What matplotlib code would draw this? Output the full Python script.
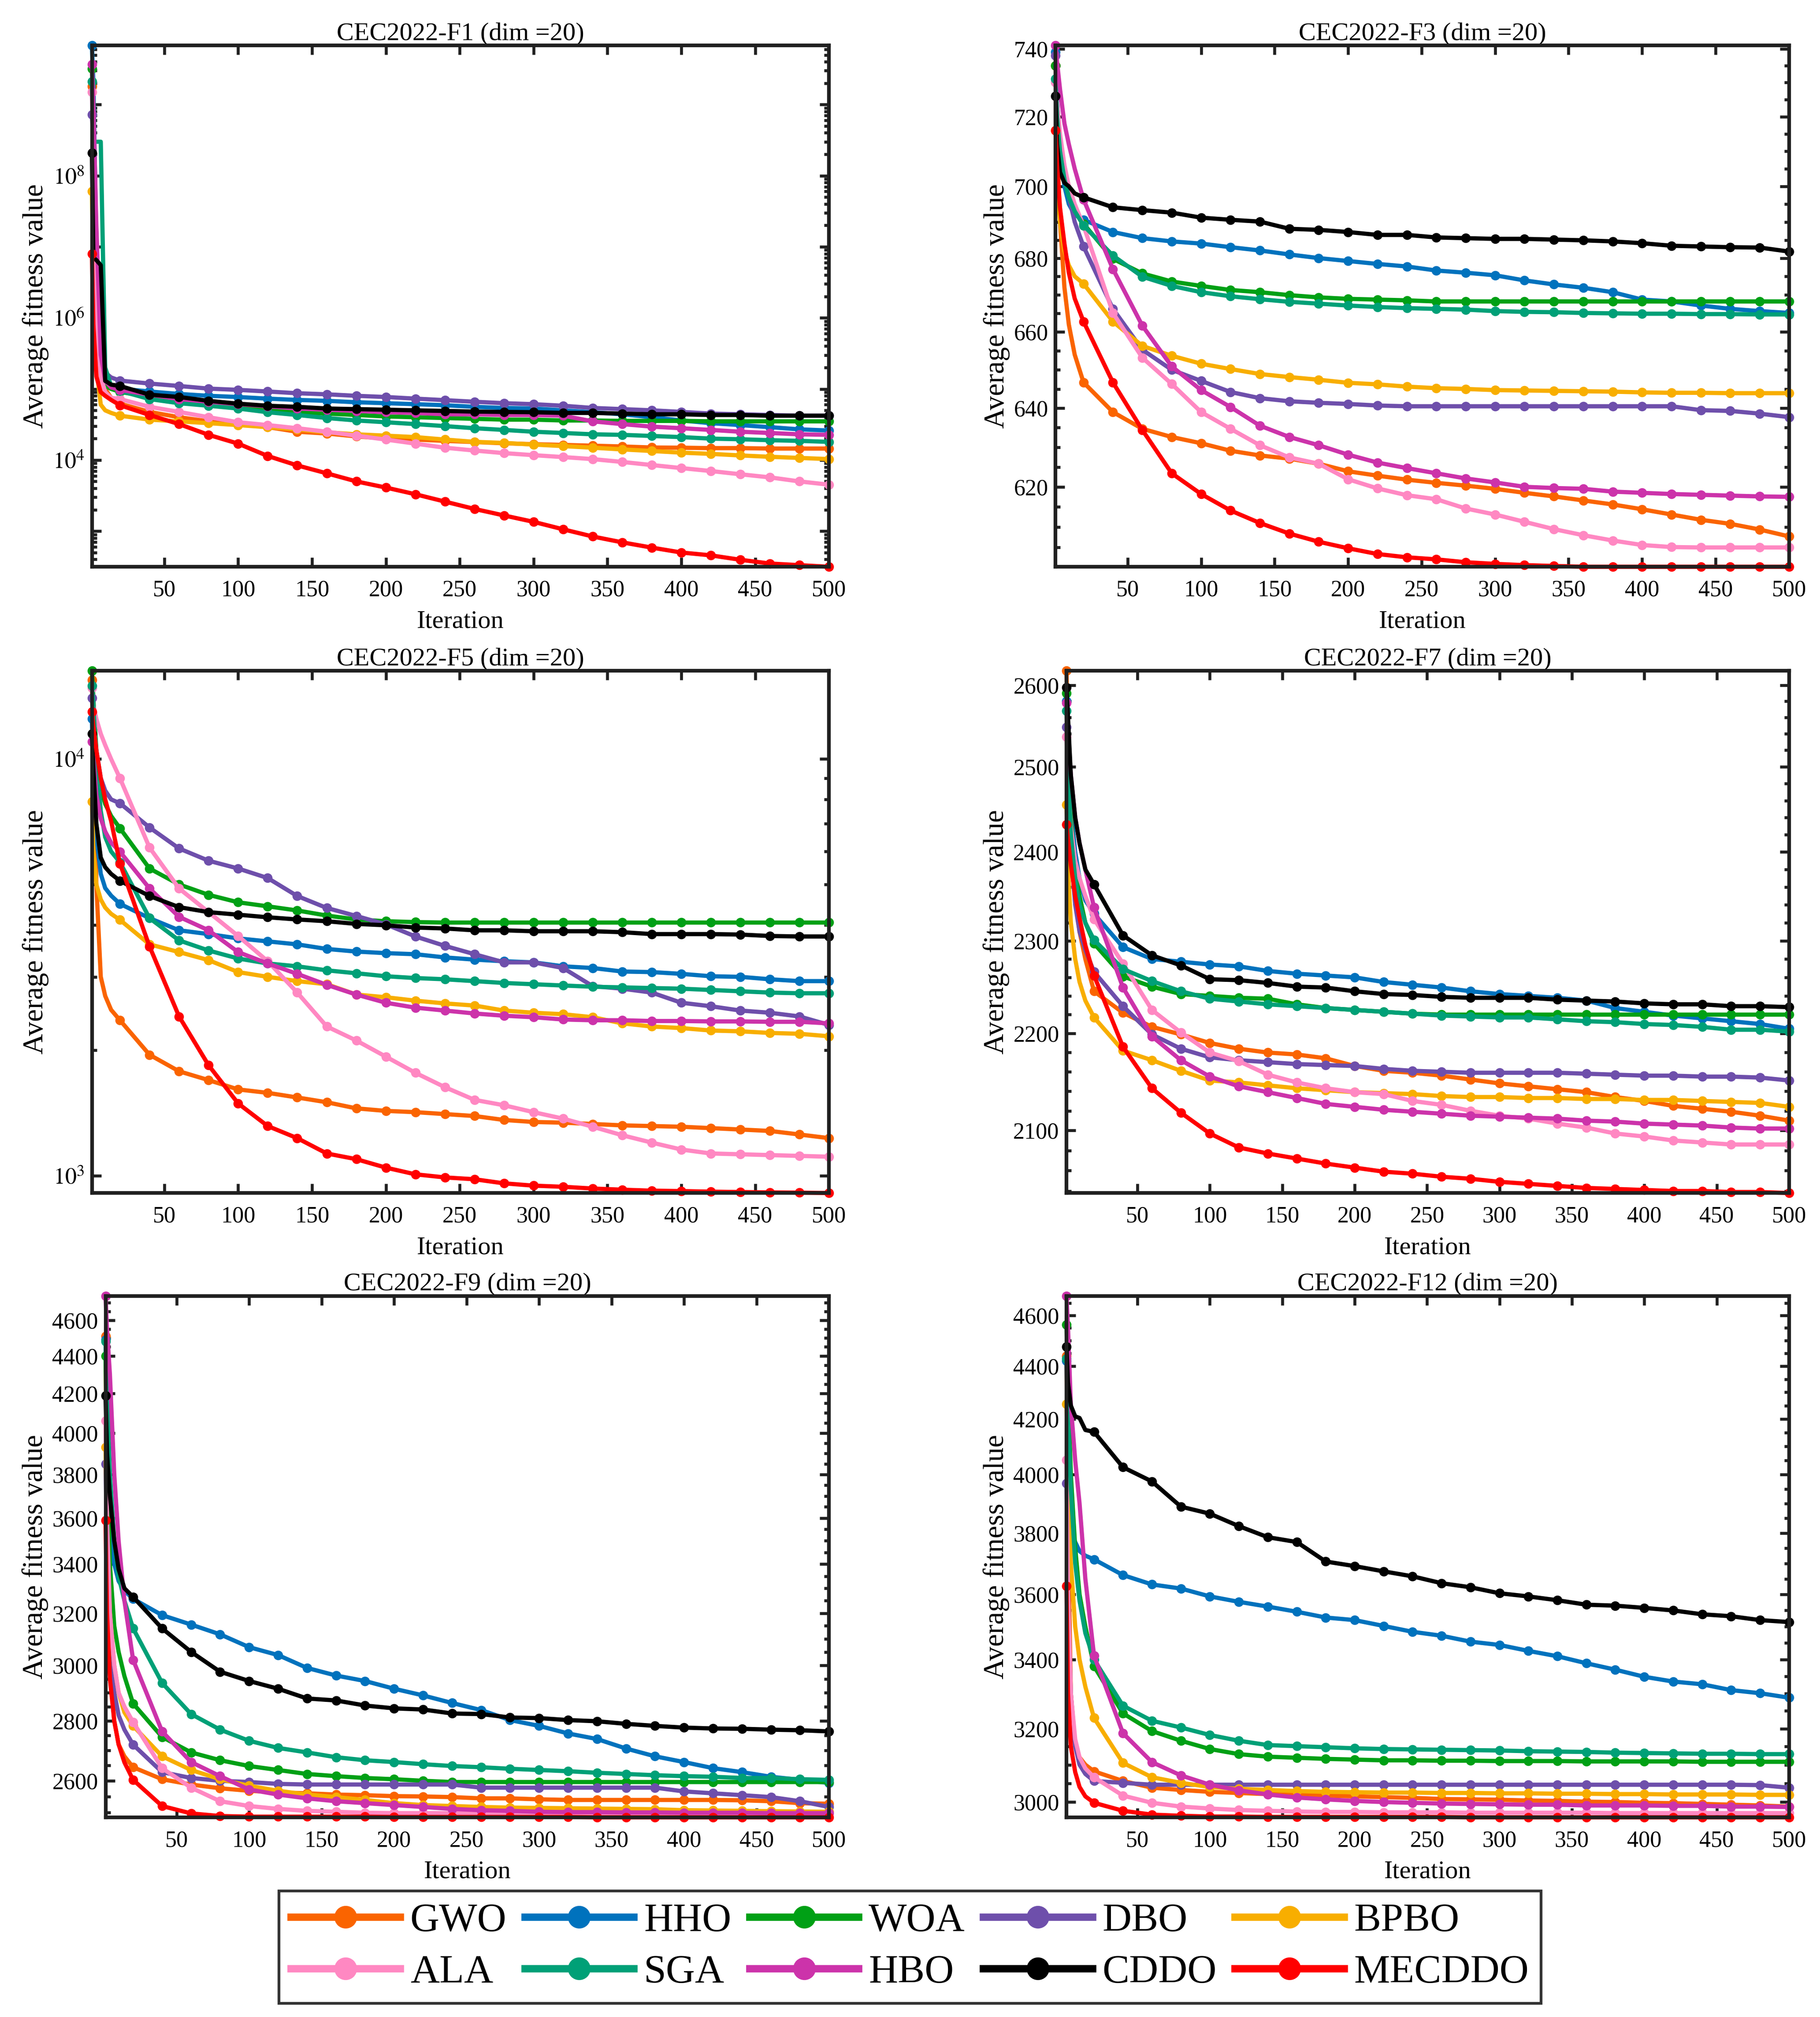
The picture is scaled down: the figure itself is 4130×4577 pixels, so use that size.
import math
import matplotlib
matplotlib.use("Agg")
import matplotlib.pyplot as plt
import matplotlib.ticker as mticker

plt.rcParams['font.family'] = ['Liberation Serif', 'DejaVu Serif']
plt.rcParams['mathtext.fontset'] = 'stix'

# ---------------- data ----------------
ALGOS = ['GWO', 'HHO', 'WOA', 'DBO', 'BPBO', 'ALA', 'SGA', 'HBO', 'CDDO', 'MECDDO']
COLORS = ['#FA6400', '#0072BD', '#00A015', '#6E4FAB', '#F8AE00',
          '#FF88C2', '#00A077', '#CC33AA', '#000000', '#FF0000']

ITERS = [1, 2, 4, 7, 10, 14, 20, 40, 60, 80, 100, 120, 140, 160, 180, 200,
         220, 240, 260, 280, 300, 320, 340, 360, 380, 400, 420, 440, 460, 480, 500]

# CEC2022-F1
F1_GWO = [1.8e9, 5e8, 2e6, 1.5e5, 1.0e5, 7.5e4, 6.2e4, 4.75e4, 4.0e4, 3.5e4, 3.2e4, 2.9e4, 2.5e4, 2.36e4, 2.15e4, 2.0e4,
          1.94e4, 1.86e4, 1.79e4, 1.72e4, 1.67e4, 1.63e4, 1.59e4, 1.55e4, 1.5e4, 1.49e4, 1.47e4, 1.47e4, 1.45e4, 1.45e4, 1.45e4]
F1_HHO = [6.8e9, 2e9, 1e7, 2e5, 1.2e5, 1.05e5, 1.01e5, 9.2e4, 8.5e4, 8.0e4, 7.7e4, 7.3e4, 7.0e4, 6.8e4, 6.5e4, 6.3e4,
          6.1e4, 5.9e4, 5.6e4, 5.4e4, 5.3e4, 5.0e4, 4.7e4, 4.4e4, 4.0e4, 3.6e4, 3.3e4, 3.1e4, 2.9e4, 2.7e4, 2.6e4]
F1_WOA = [3.2e9, 1e9, 5e6, 1.5e5, 1.1e5, 1.0e5, 9.1e4, 7.7e4, 6.8e4, 5.9e4, 5.6e4, 5.0e4, 4.75e4, 4.5e4, 4.3e4, 4.1e4,
          4.0e4, 3.9e4, 3.8e4, 3.7e4, 3.7e4, 3.6e4, 3.6e4, 3.55e4, 3.55e4, 3.55e4, 3.5e4, 3.5e4, 3.5e4, 3.5e4, 3.5e4]
F1_DBO = [7.2e8, 3e8, 3e6, 2.5e5, 1.7e5, 1.45e5, 1.31e5, 1.19e5, 1.10e5, 1.01e5, 9.7e4, 9.2e4, 8.7e4, 8.4e4, 8.0e4, 7.7e4,
          7.3e4, 6.95e4, 6.6e4, 6.3e4, 6.1e4, 5.8e4, 5.4e4, 5.2e4, 5.0e4, 4.75e4, 4.5e4, 4.4e4, 4.3e4, 4.2e4, 4.2e4]
F1_BPBO = [6e7, 5e6, 2e5, 6e4, 5e4, 4.6e4, 4.2e4, 3.7e4, 3.5e4, 3.3e4, 3.1e4, 2.9e4, 2.7e4, 2.45e4, 2.3e4, 2.2e4,
           2.1e4, 1.94e4, 1.8e4, 1.74e4, 1.65e4, 1.57e4, 1.49e4, 1.41e4, 1.34e4, 1.27e4, 1.22e4, 1.16e4, 1.11e4, 1.07e4, 1.03e4]
F1_ALA = [1.5e9, 2e8, 1e6, 1.5e5, 9e4, 7.5e4, 7.2e4, 5.6e4, 4.75e4, 4.0e4, 3.4e4, 3.1e4, 2.8e4, 2.5e4, 2.2e4, 1.94e4,
          1.7e4, 1.49e4, 1.36e4, 1.25e4, 1.17e4, 1.10e4, 1.03e4, 9.4e3, 8.5e3, 7.7e3, 7.0e3, 6.3e3, 5.7e3, 5.0e3, 4.5e3]
F1_SGA = [2.1e9, 3e8, 3e8, 3e8, 2e5, 1.1e5, 9.4e4, 7.2e4, 6.3e4, 5.8e4, 5.3e4, 4.7e4, 4.3e4, 3.9e4, 3.6e4, 3.4e4,
          3.2e4, 3.0e4, 2.8e4, 2.65e4, 2.5e4, 2.4e4, 2.3e4, 2.26e4, 2.18e4, 2.1e4, 2.0e4, 1.96e4, 1.9e4, 1.86e4, 1.8e4]
F1_HBO = [3.7e9, 1e9, 2e7, 3e5, 1.3e5, 1.05e5, 9.7e4, 8.3e4, 7.2e4, 6.6e4, 6.1e4, 5.7e4, 5.3e4, 5.1e4, 4.9e4, 4.7e4,
          4.6e4, 4.4e4, 4.4e4, 4.3e4, 4.3e4, 4.2e4, 3.5e4, 3.2e4, 2.95e4, 2.8e4, 2.65e4, 2.5e4, 2.4e4, 2.3e4, 2.26e4]
F1_CDDO = [2.1e8, 7e6, 6.5e6, 5.5e6, 1.3e5, 1.15e5, 1.10e5, 8.3e4, 7.7e4, 6.8e4, 6.2e4, 5.8e4, 5.6e4, 5.3e4, 5.2e4, 5.1e4,
           5.0e4, 4.9e4, 4.8e4, 4.75e4, 4.7e4, 4.6e4, 4.6e4, 4.5e4, 4.4e4, 4.4e4, 4.3e4, 4.3e4, 4.2e4, 4.2e4, 4.2e4]
F1_MECDDO = [8e6, 8e5, 1.5e5, 9e4, 8e4, 7e4, 5.9e4, 4.3e4, 3.2e4, 2.26e4, 1.7e4, 1.14e4, 8.4e3, 6.5e3, 5.0e3, 4.1e3,
             3.3e3, 2.6e3, 2.05e3, 1.66e3, 1.35e3, 1.06e3, 840, 695, 586, 500, 456, 395, 350, 332, 315]

# CEC2022-F3
F3_GWO = [735, 712, 690, 672, 662, 654, 646.7, 639, 634.7, 632.6, 631, 629.1, 627.9, 627.1, 625.8, 623.9,
          622.8, 621.8, 621, 620.3, 619.5, 618.5, 617.6, 616.6, 615.6, 614.4, 613.1, 611.8, 610.8, 609.4, 607.7]
F3_HHO = [739, 725, 712, 700, 695, 692, 690.6, 687.2, 685.5, 684.6, 684.0, 683.0, 682.1, 681.0, 680.0, 679.2,
          678.4, 677.7, 676.6, 676.0, 675.3, 673.9, 672.8, 671.9, 670.7, 668.7, 668.2, 667.1, 666.2, 665.6, 665.1]
F3_WOA = [735, 722, 710, 702, 697, 693, 689.5, 679.8, 675.8, 673.6, 672.4, 671.3, 670.7, 669.9, 669.3, 668.9,
          668.7, 668.5, 668.2, 668.2, 668.2, 668.2, 668.2, 668.2, 668.2, 668.2, 668.2, 668.2, 668.2, 668.2, 668.2]
F3_DBO = [738, 725, 712, 703, 697, 690, 683.2, 666.2, 655.3, 650.0, 647.1, 644.2, 642.6, 641.8, 641.4, 641.1,
          640.7, 640.5, 640.5, 640.5, 640.5, 640.5, 640.5, 640.5, 640.5, 640.5, 640.5, 639.5, 639.3, 638.6, 637.7]
F3_BPBO = [716, 700, 690, 682, 678, 675, 673, 662.8, 656.3, 653.7, 651.6, 650.2, 648.9, 648.1, 647.4, 646.6,
           646.2, 645.6, 645.2, 645.0, 644.7, 644.6, 644.5, 644.4, 644.3, 644.1, 644.0, 644.0, 643.9, 643.9, 643.9]
F3_ALA = [730, 724, 715, 706, 700, 695, 689, 665.1, 653.2, 646.3, 639, 634.7, 630.5, 627.4, 625.8, 621.9,
          619.6, 617.9, 616.9, 614.6, 613.1, 611.3, 609.5, 608, 606.7, 605.6, 605.1, 605.0, 605.0, 605.0, 605.0]
F3_SGA = [731, 720, 710, 702, 697, 693, 689, 680.7, 674.9, 672.4, 670.7, 669.6, 668.8, 668.1, 667.6, 667.1,
          666.7, 666.4, 666.2, 666.0, 665.6, 665.4, 665.3, 665.1, 665.0, 664.9, 664.9, 664.8, 664.8, 664.7, 664.7]
F3_HBO = [741, 736, 728, 718, 712, 705, 696.3, 677, 661.7, 650.9, 644.7, 640.3, 635.5, 632.6, 630.5, 628.1,
          626.1, 624.7, 623.4, 622.1, 621.1, 620, 619.7, 619.5, 618.8, 618.5, 618.2, 618.0, 617.8, 617.6, 617.5]
F3_CDDO = [726, 712, 704, 701, 700, 698, 696.9, 694.1, 693.3, 692.6, 691.2, 690.6, 690.1, 688.1, 687.8, 687.2,
           686.4, 686.4, 685.7, 685.5, 685.3, 685.3, 685.1, 684.9, 684.6, 684.1, 683.4, 683.2, 683.0, 682.9, 681.8]
F3_MECDDO = [716, 706, 694, 684, 676, 669, 662.8, 646.7, 634.4, 623.4, 618.2, 614.1, 611, 608.4, 606.4, 604.8,
             603.4, 602.6, 602.1, 601.4, 601, 600.7, 600.5, 600.3, 600.3, 600.3, 600.3, 600.3, 600.3, 600.3, 600.3]

# CEC2022-F5
F5_GWO = [15500, 11000, 5000, 3000, 2700, 2500, 2360, 1950, 1780, 1695, 1610, 1580, 1540, 1500, 1450, 1430,
          1420, 1405, 1390, 1360, 1345, 1340, 1330, 1320, 1315, 1310, 1300, 1290, 1280, 1255, 1230]
F5_HHO = [12500, 9000, 6500, 5300, 4900, 4700, 4490, 4150, 3880, 3800, 3710, 3650, 3590, 3500, 3450, 3420,
          3400, 3340, 3300, 3270, 3250, 3180, 3150, 3090, 3080, 3050, 3010, 3000, 2960, 2930, 2930]
F5_WOA = [16300, 14000, 10500, 8500, 7800, 7300, 6820, 5460, 5000, 4720, 4530, 4430, 4330, 4210, 4120, 4080,
          4060, 4050, 4050, 4050, 4050, 4050, 4050, 4050, 4050, 4050, 4050, 4050, 4050, 4050, 4050]
F5_DBO = [14000, 12500, 10500, 9000, 8400, 8000, 7830, 6850, 6100, 5700, 5460, 5180, 4690, 4390, 4200, 4010,
          3750, 3560, 3400, 3250, 3250, 3150, 2850, 2810, 2750, 2600, 2550, 2490, 2460, 2410, 2300]
F5_BPBO = [7900, 6000, 5000, 4600, 4400, 4250, 4110, 3590, 3440, 3290, 3080, 3000, 2930, 2880, 2720, 2680,
           2630, 2590, 2560, 2490, 2460, 2440, 2400, 2320, 2280, 2260, 2230, 2220, 2200, 2190, 2160]
F5_ALA = [14800, 13500, 12500, 11500, 10800, 10000, 8990, 6130, 4890, 4290, 3760, 3270, 2750, 2280, 2110, 1930,
          1765, 1630, 1520, 1475, 1420, 1370, 1310, 1250, 1200, 1155, 1130, 1125, 1120, 1115, 1110]
F5_SGA = [15000, 13500, 10000, 7500, 6500, 6000, 5650, 4150, 3670, 3470, 3320, 3230, 3180, 3110, 3060, 3010,
          2980, 2960, 2930, 2900, 2880, 2860, 2840, 2830, 2820, 2810, 2790, 2770, 2750, 2740, 2740]
F5_HBO = [11000, 10000, 8200, 7200, 6700, 6300, 5990, 4890, 4180, 3880, 3440, 3230, 3050, 2870, 2720, 2600,
          2530, 2490, 2450, 2420, 2400, 2370, 2360, 2360, 2350, 2350, 2345, 2345, 2340, 2340, 2320]
F5_CDDO = [11500, 9500, 7000, 5800, 5500, 5300, 5100, 4690, 4410, 4290, 4230, 4170, 4120, 4080, 4020, 3990,
           3940, 3920, 3880, 3880, 3860, 3860, 3860, 3840, 3800, 3800, 3800, 3790, 3760, 3750, 3750]
F5_MECDDO = [13000, 12000, 10500, 9000, 8000, 7100, 5610, 3550, 2410, 1840, 1490, 1315, 1230, 1130, 1095, 1045,
             1007, 990, 980, 958, 946, 940, 931, 925, 920, 918, 915, 913, 911, 910, 908]

# CEC2022-F7
F7_GWO = [2618, 2520, 2420, 2350, 2310, 2280, 2245, 2222, 2207, 2199, 2190, 2184, 2180, 2178, 2174, 2166,
          2161, 2159, 2156, 2152, 2148, 2145, 2142, 2139, 2134, 2130, 2125, 2122, 2119, 2115, 2110]
F7_HHO = [2580, 2520, 2450, 2400, 2370, 2345, 2330, 2293, 2280, 2277, 2274, 2272, 2267, 2264, 2262, 2260,
          2255, 2252, 2249, 2245, 2242, 2240, 2238, 2235, 2227, 2223, 2219, 2216, 2213, 2210, 2205]
F7_WOA = [2590, 2520, 2440, 2380, 2350, 2320, 2297, 2261, 2250, 2242, 2240, 2238, 2237, 2231, 2227, 2225,
          2223, 2221, 2220, 2220, 2220, 2220, 2220, 2220, 2220, 2220, 2220, 2220, 2220, 2220, 2220]
F7_DBO = [2548, 2470, 2400, 2340, 2310, 2290, 2266, 2229, 2199, 2184, 2175, 2172, 2170, 2168, 2167, 2166,
          2163, 2161, 2160, 2159, 2159, 2159, 2159, 2158, 2157, 2156, 2156, 2155, 2155, 2154, 2151]
F7_BPBO = [2455, 2380, 2320, 2280, 2255, 2235, 2217, 2182, 2172, 2161, 2151, 2149, 2146, 2143, 2141, 2139,
           2138, 2137, 2135, 2134, 2134, 2133, 2133, 2132, 2132, 2131, 2131, 2130, 2129, 2128, 2124]
F7_ALA = [2536, 2480, 2430, 2390, 2370, 2350, 2324, 2275, 2225, 2201, 2180, 2171, 2157, 2149, 2143, 2139,
          2137, 2130, 2126, 2120, 2115, 2112, 2107, 2103, 2097, 2094, 2090, 2088, 2086, 2086, 2086]
F7_SGA = [2568, 2500, 2420, 2370, 2340, 2320, 2301, 2269, 2256, 2245, 2237, 2234, 2231, 2229, 2227, 2225,
          2223, 2221, 2219, 2218, 2217, 2217, 2215, 2213, 2212, 2210, 2209, 2207, 2204, 2204, 2202]
F7_HBO = [2578, 2540, 2490, 2440, 2410, 2380, 2337, 2249, 2197, 2172, 2155, 2145, 2139, 2133, 2127, 2124,
          2121, 2119, 2117, 2115, 2114, 2113, 2112, 2110, 2109, 2107, 2106, 2105, 2103, 2102, 2102]
F7_CDDO = [2597, 2560, 2490, 2440, 2410, 2380, 2363, 2306, 2284, 2273, 2258, 2257, 2254, 2250, 2249, 2245,
           2242, 2241, 2239, 2238, 2238, 2238, 2236, 2235, 2234, 2232, 2231, 2231, 2229, 2229, 2228]
F7_MECDDO = [2432, 2415, 2385, 2350, 2325, 2295, 2262, 2186, 2143, 2118, 2097, 2083, 2077, 2072, 2067, 2063,
             2059, 2057, 2054, 2052, 2049, 2047, 2045, 2043, 2042, 2041, 2040, 2040, 2039, 2039, 2038]

# CEC2022-F9
F9_GWO = [4510, 3600, 3000, 2800, 2720, 2680, 2644, 2605, 2588, 2576, 2568, 2563, 2560, 2556, 2554, 2551,
          2550, 2548, 2544, 2544, 2541, 2539, 2539, 2539, 2539, 2539, 2539, 2538, 2535, 2529, 2527]
F9_HHO = [4490, 4000, 3600, 3400, 3330, 3290, 3257, 3192, 3155, 3117, 3068, 3038, 2990, 2962, 2942, 2914,
          2890, 2863, 2838, 2803, 2783, 2757, 2738, 2706, 2680, 2661, 2641, 2628, 2613, 2603, 2593]
F9_WOA = [4400, 3900, 3400, 3150, 3050, 2960, 2861, 2745, 2693, 2667, 2648, 2635, 2622, 2615, 2609, 2605,
          2600, 2596, 2596, 2596, 2596, 2596, 2596, 2596, 2596, 2596, 2596, 2596, 2596, 2596, 2596]
F9_DBO = [3850, 3500, 3100, 2900, 2820, 2770, 2719, 2628, 2609, 2600, 2596, 2590, 2588, 2588, 2588, 2588,
          2588, 2588, 2578, 2578, 2578, 2578, 2578, 2578, 2578, 2566, 2560, 2554, 2548, 2535, 2517]
F9_BPBO = [3930, 3500, 3200, 3000, 2900, 2830, 2783, 2680, 2635, 2605, 2584, 2568, 2556, 2548, 2539, 2529,
           2523, 2520, 2517, 2515, 2514, 2513, 2512, 2511, 2510, 2507, 2506, 2505, 2504, 2503, 2502]
F9_ALA = [4060, 3600, 3200, 3000, 2900, 2850, 2796, 2641, 2578, 2535, 2520, 2511, 2505, 2502, 2499, 2498,
          2498, 2498, 2497, 2497, 2497, 2497, 2497, 2496, 2496, 2496, 2496, 2496, 2496, 2496, 2496]
F9_SGA = [4480, 4200, 3800, 3500, 3350, 3250, 3140, 2935, 2824, 2770, 2732, 2708, 2693, 2677, 2667, 2661,
          2654, 2648, 2644, 2639, 2635, 2631, 2626, 2622, 2618, 2615, 2613, 2609, 2609, 2605, 2603]
F9_HBO = [4740, 4550, 4300, 3800, 3500, 3250, 3020, 2764, 2661, 2615, 2572, 2556, 2544, 2535, 2529, 2523,
          2517, 2511, 2507, 2505, 2502, 2501, 2501, 2500, 2500, 2499, 2499, 2499, 2498, 2498, 2498]
F9_CDDO = [4190, 3900, 3700, 3500, 3380, 3300, 3265, 3140, 3050, 2976, 2942, 2914, 2879, 2872, 2854, 2844,
           2840, 2826, 2824, 2812, 2810, 2803, 2799, 2790, 2783, 2777, 2774, 2773, 2770, 2768, 2764]
F9_MECDDO = [3590, 3200, 2950, 2800, 2720, 2660, 2603, 2520, 2497, 2489, 2487, 2487, 2487, 2487, 2487, 2486,
             2486, 2486, 2486, 2486, 2486, 2486, 2485, 2485, 2485, 2485, 2485, 2485, 2485, 2485, 2485]

# CEC2022-F12
F12_GWO = [4440, 3800, 3300, 3150, 3120, 3100, 3082, 3056, 3038, 3032, 3027, 3024, 3021, 3019, 3017, 3015,
           3013, 3011, 3008, 3007, 3006, 3004, 3003, 3001, 3000, 2998, 2997, 2995, 2993, 2991, 2988]
F12_HHO = [4420, 4000, 3800, 3770, 3740, 3725, 3713, 3662, 3632, 3619, 3594, 3577, 3562, 3546, 3528, 3520,
           3502, 3484, 3472, 3454, 3444, 3426, 3410, 3389, 3370, 3349, 3335, 3327, 3310, 3301, 3288]
F12_WOA = [4563, 4300, 4000, 3750, 3600, 3500, 3380, 3243, 3193, 3166, 3143, 3129, 3122, 3119, 3116, 3114,
           3112, 3112, 3111, 3111, 3110, 3110, 3110, 3109, 3109, 3109, 3109, 3108, 3108, 3108, 3108]
F12_DBO = [3970, 3600, 3300, 3150, 3100, 3075, 3056, 3051, 3046, 3046, 3046, 3046, 3046, 3046, 3046, 3046,
           3046, 3046, 3046, 3046, 3046, 3046, 3046, 3046, 3046, 3046, 3046, 3046, 3046, 3045, 3038]
F12_BPBO = [4256, 4000, 3700, 3500, 3400, 3320, 3230, 3105, 3066, 3051, 3040, 3035, 3032, 3029, 3027, 3026,
            3025, 3025, 3024, 3024, 3023, 3023, 3022, 3022, 3021, 3021, 3020, 3020, 3020, 3019, 3019]
F12_ALA = [4051, 3600, 3300, 3170, 3120, 3090, 3066, 3017, 2998, 2988, 2983, 2979, 2977, 2975, 2974, 2974,
           2973, 2973, 2973, 2972, 2972, 2972, 2972, 2972, 2971, 2971, 2971, 2971, 2971, 2971, 2971]
F12_SGA = [4430, 4200, 3950, 3700, 3580, 3480, 3400, 3265, 3222, 3203, 3182, 3166, 3154, 3151, 3148, 3145,
           3143, 3142, 3141, 3140, 3139, 3137, 3136, 3135, 3133, 3132, 3131, 3130, 3130, 3129, 3129]
F12_HBO = [4680, 4550, 4250, 4050, 3900, 3650, 3412, 3187, 3107, 3071, 3046, 3031, 3020, 3012, 3007, 3003,
           3000, 2998, 2996, 2995, 2994, 2993, 2993, 2991, 2991, 2991, 2990, 2990, 2988, 2988, 2987]
F12_CDDO = [4475, 4337, 4250, 4210, 4204, 4160, 4153, 4026, 3976, 3889, 3865, 3823, 3786, 3770, 3706, 3691,
            3674, 3658, 3636, 3623, 3604, 3594, 3582, 3568, 3565, 3558, 3550, 3538, 3532, 3520, 3514]
F12_MECDDO = [3627, 3300, 3150, 3080, 3040, 3015, 2998, 2977, 2967, 2964, 2962, 2962, 2961, 2961, 2961, 2961,
              2961, 2961, 2961, 2960, 2960, 2960, 2960, 2960, 2960, 2960, 2960, 2960, 2960, 2960, 2960]

TITLES = ['CEC2022-F1 (dim =20)', 'CEC2022-F3 (dim =20)', 'CEC2022-F5 (dim =20)',
          'CEC2022-F7 (dim =20)', 'CEC2022-F9 (dim =20)', 'CEC2022-F12 (dim =20)']
SERIES = [
    [F1_GWO, F1_HHO, F1_WOA, F1_DBO, F1_BPBO, F1_ALA, F1_SGA, F1_HBO, F1_CDDO, F1_MECDDO],
    [F3_GWO, F3_HHO, F3_WOA, F3_DBO, F3_BPBO, F3_ALA, F3_SGA, F3_HBO, F3_CDDO, F3_MECDDO],
    [F5_GWO, F5_HHO, F5_WOA, F5_DBO, F5_BPBO, F5_ALA, F5_SGA, F5_HBO, F5_CDDO, F5_MECDDO],
    [F7_GWO, F7_HHO, F7_WOA, F7_DBO, F7_BPBO, F7_ALA, F7_SGA, F7_HBO, F7_CDDO, F7_MECDDO],
    [F9_GWO, F9_HHO, F9_WOA, F9_DBO, F9_BPBO, F9_ALA, F9_SGA, F9_HBO, F9_CDDO, F9_MECDDO],
    [F12_GWO, F12_HHO, F12_WOA, F12_DBO, F12_BPBO, F12_ALA, F12_SGA, F12_HBO, F12_CDDO, F12_MECDDO],
]

# ---------------- layout / style ----------------
# axes rectangles [left, bottom, width, height] in figure fractions
POSITIONS = [
    [0.0505, 0.7190, 0.4050, 0.2585],
    [0.5800, 0.7190, 0.4030, 0.2585],
    [0.0505, 0.4085, 0.4050, 0.2590],
    [0.5860, 0.4085, 0.3970, 0.2590],
    [0.0580, 0.0990, 0.3975, 0.2585],
    [0.5860, 0.0990, 0.3970, 0.2585],
]
# (major step, minor step) for the plainly-labelled log axes; None = decade labels
YSTEPS = [None, (20, 5), None, (100, 20), (200, 50), (200, 50)]

mark_idx = [0] + list(range(6, len(ITERS)))


def decade_label(v, pos, every=1):
    e = int(round(math.log10(v)))
    return r'$10^{%d}$' % e if e % every == 0 else ''


fig = plt.figure(figsize=(4130 / 300, 4577 / 300), dpi=300)

handles = []
for k in range(6):
    ax = fig.add_axes(POSITIONS[k])
    lines = []
    for name, col, ys in zip(ALGOS, COLORS, SERIES[k]):
        ln, = ax.plot(ITERS, ys, color=col, lw=2.3, marker='o', ms=4.2,
                      markevery=mark_idx, label=name, clip_on=False)
        lines.append(ln)
    if k == 0:
        handles = lines

    ax.set_yscale('log')
    ax.set_xlim(1, 500)
    allv = [v for ys in SERIES[k] for v in ys]
    ax.set_ylim(min(allv), max(allv))

    ax.xaxis.set_major_locator(mticker.FixedLocator([50, 100, 150, 200, 250, 300, 350, 400, 450, 500]))
    ax.xaxis.set_minor_locator(mticker.NullLocator())

    if YSTEPS[k] is None:
        ax.yaxis.set_major_locator(mticker.LogLocator(base=10, numticks=20))
        ax.yaxis.set_minor_locator(mticker.LogLocator(base=10, subs=[2, 3, 4, 5, 6, 7, 8, 9], numticks=20))
        every = 2 if k == 0 else 1
        ax.yaxis.set_major_formatter(mticker.FuncFormatter(lambda v, p, e=every: decade_label(v, p, e)))
    else:
        major, minor = YSTEPS[k]
        ax.yaxis.set_major_locator(mticker.MultipleLocator(major))
        ax.yaxis.set_minor_locator(mticker.MultipleLocator(minor))
        ax.yaxis.set_major_formatter(mticker.FormatStrFormatter('%d'))
    ax.yaxis.set_minor_formatter(mticker.NullFormatter())

    ax.tick_params(which='both', direction='in', top=True, right=True, width=1.6,
                   labelsize=12.5, colors='#202020', labelcolor='black')
    ax.tick_params(which='major', length=5)
    ax.tick_params(which='minor', length=2.6)
    ax.tick_params(axis='x', pad=7)
    ax.tick_params(axis='y', pad=4)
    for sp in ax.spines.values():
        sp.set_linewidth(2.0)
        sp.set_color('#202020')
        sp.set_zorder(5)

    ax.set_title(TITLES[k], fontsize=14, pad=3)
    ax.set_xlabel('Iteration', fontsize=14, labelpad=5)
    ax.set_ylabel('Average fitness value', fontsize=15.5, labelpad=2)

# legend: two rows filled row-wise
order = [0, 5, 1, 6, 2, 7, 3, 8, 4, 9]
leg = fig.legend([handles[i] for i in order], [ALGOS[i] for i in order],
                 loc='center', bbox_to_anchor=(0.5, 0.0347), ncol=5, fontsize=22,
                 frameon=True, fancybox=False, edgecolor='black', markerscale=2.7,
                 handlelength=2.7, handletextpad=0.25, columnspacing=0.45,
                 labelspacing=0.37, borderpad=0.3)
leg.get_frame().set_linewidth(1.5)
for ln in leg.get_lines():
    ln.set_linewidth(4)

fig.savefig('out.png', dpi=300)
